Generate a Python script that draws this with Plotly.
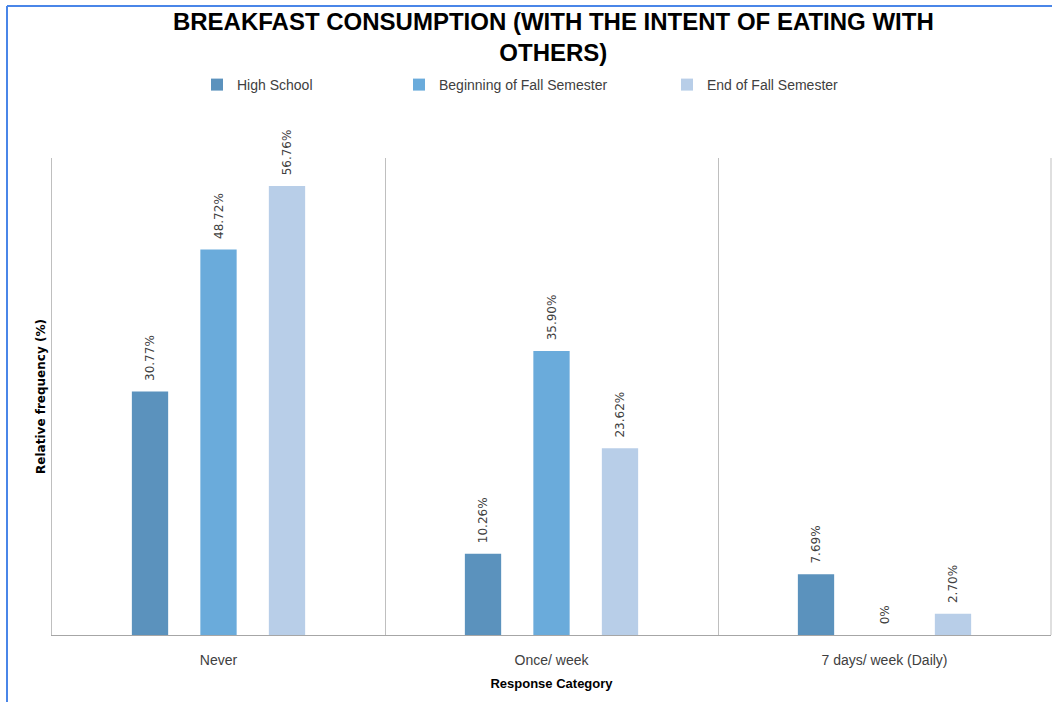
import plotly.graph_objects as go

categories = ["Never", "Once/ week", "7 days/ week (Daily)"]
series_names = ["High School", "Beginning of Fall Semester", "End of Fall Semester"]
high_school = [30.77, 10.26, 7.69]
beginning_fall = [48.72, 35.90, 0.0]
end_fall = [56.76, 23.62, 2.70]
labels_hs = ["30.77%", "10.26%", "7.69%"]
labels_beg = ["48.72%", "35.90%", "0%"]
labels_end = ["56.76%", "23.62%", "2.70%"]

colors = ["#5b92bd", "#6aabdb", "#b8cee8"]
values = [high_school, beginning_fall, end_fall]
texts = [labels_hs, labels_beg, labels_end]
legends = ["legend", "legend2", "legend3"]

W, H = 1052, 702
ML, MR, MT, MB = 52, 1, 158, 67
PW = W - ML - MR
PH = H - MT - MB

fig = go.Figure()
for name, vals, txt, col, lg in zip(series_names, values, texts, colors, legends):
    fig.add_trace(go.Bar(
        name=name, x=categories, y=vals, text=txt,
        texttemplate="\u00a0\u00a0%{text}",
        textposition="outside", textangle=-90, cliponaxis=False, constraintext="none",
        textfont=dict(family="DejaVu Sans", size=12, color="#404040"),
        marker=dict(color=col, line=dict(width=0)),
        legend=lg,
    ))

def px2paper(xpx):
    return (xpx - ML) / PW

def py2paper(ypx):
    return (H - MB - ypx) / PH

legend_common = dict(orientation="h", yanchor="middle", xanchor="left",
                     font=dict(family="Liberation Sans", size=14, color="#404040"),
                     bgcolor="rgba(0,0,0,0)", itemwidth=30)
leg_y = py2paper(85)
fig.update_layout(
    legend=dict(x=px2paper(197), y=leg_y, **legend_common),
    legend2=dict(x=px2paper(399), y=leg_y, **legend_common),
    legend3=dict(x=px2paper(667), y=leg_y, **legend_common),
)

fig.update_layout(
    width=W, height=H,
    margin=dict(l=ML, r=MR, t=MT, b=MB),
    paper_bgcolor="white", plot_bgcolor="white",
    barmode="group", bargap=0.383, bargroupgap=0.47,
    title=dict(
        text="<b>BREAKFAST CONSUMPTION (WITH THE INTENT OF EATING WITH<br>OTHERS)</b>",
        x=0.526, xanchor="center", yref="container", y=1 - 30 / H, yanchor="top",
        font=dict(family="Liberation Sans", size=24, color="#000000"),
    ),
    xaxis=dict(
        type="category", tickson="boundaries", showgrid=True, gridcolor="#bfbfbf", gridwidth=1,
        showline=True, linecolor="#a6a6a6", linewidth=1, mirror=False, ticks="",
        ticklabelstandoff=12,
        tickfont=dict(family="Liberation Sans", size=14, color="#404040"),
        title=dict(text="<b>Response Category</b>", standoff=12,
                   font=dict(family="Liberation Sans", size=13, color="#000000")),
        zeroline=False,
    ),
    yaxis=dict(
        range=[0, 60.3], showgrid=False, showticklabels=False, ticks="",
        showline=True, linecolor="#bfbfbf", linewidth=1, zeroline=False,
        title=dict(text="<b>Relative frequency (%)</b>", standoff=2,
                   font=dict(family="DejaVu Sans", size=12, color="#000000")),
    ),
    showlegend=True,
)

# right border of plot area and outer blue frame of the image
fig.add_shape(type="line", xref="paper", yref="paper", x0=1, x1=1, y0=0, y1=1,
              line=dict(color="#bfbfbf", width=1))
fig.add_shape(type="line", xref="paper", yref="paper",
              x0=px2paper(7), x1=px2paper(7), y0=py2paper(H + 2), y1=py2paper(6),
              line=dict(color="#4a86e8", width=2))
fig.add_shape(type="line", xref="paper", yref="paper",
              x0=px2paper(7), x1=px2paper(W + 2), y0=py2paper(6), y1=py2paper(6),
              line=dict(color="#4a86e8", width=2))

fig.write_html("out.html")
